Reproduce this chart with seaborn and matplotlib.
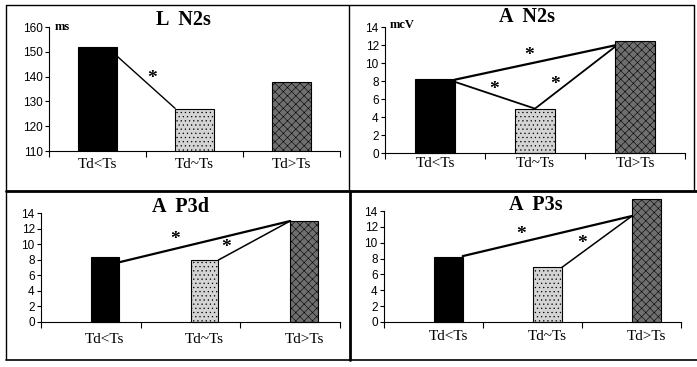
import matplotlib
matplotlib.use("Agg")
import matplotlib.pyplot as plt
from matplotlib.lines import Line2D
import seaborn as sns
import pandas as pd

# ---------------- data ----------------
categories = ["Td<Ts", "Td~Ts", "Td>Ts"]
titles = ["L  N2s", "A  N2s", "A  P3d", "A  P3s"]
units = ["ms", "mcV", "", ""]

l_n2s = [152, 127, 138]
a_n2s = [8.2, 4.9, 12.4]
a_p3d = [8.3, 7.9, 13.0]
a_p3s = [8.2, 6.9, 15.5]

ticks_ms = [110, 120, 130, 140, 150, 160]
ticks_mcv = [0, 2, 4, 6, 8, 10, 12, 14]

# significance connectors: (category index, anchor side, y value)
sig_l_n2s = [[(0, "r", 148.3), (1, "l", 127.2)]]
sig_a_n2s = [[(0, "r", 8.15), (2, "l", 11.96)],
             [(0, "r", 7.9), (1, "c", 4.93), (2, "l", 11.8)]]
sig_a_p3d = [[(0, "r", 7.66), (2, "l", 12.97)],
             [(1, "r", 7.96), (2, "l", 12.97)]]
sig_a_p3s = [[(0, "r", 8.31), (2, "l", 13.37)],
             [(1, "r", 6.87), (2, "l", 13.37)]]

# asterisk annotation positions (x in category units, y in data units)
stars_l_n2s = [(0.56, 139.2)]
stars_a_n2s = [(0.94, 10.8), (0.59, 7.1), (1.20, 7.6)]
stars_a_p3d = [(0.71, 10.6), (1.22, 9.6)]
stars_a_p3s = [(0.73, 11.0), (1.35, 9.9)]

# ---------------- style ----------------
W, H = 697, 367
sns.set_theme(style="white")
plt.rcParams["font.family"] = ["Liberation Serif", "DejaVu Serif"]

fig = plt.figure(figsize=(W / 100, H / 100), dpi=100)
fig.patch.set_facecolor("white")


def px_rect(x0, y0, x1, y1):
    return [x0 / W, 1 - y1 / H, (x1 - x0) / W, (y1 - y0) / H]


panels = [
    dict(vals=l_n2s, rect=px_rect(49, 27, 340, 151), ylim=(110, 160), yt=ticks_ms,
         width=0.40, shift=0.0, sig=sig_l_n2s, stars=stars_l_n2s,
         title_xy=(183, 20), unit_xy=(55, 27), xpad=5.0, lws=[1.0]),
    dict(vals=a_n2s, rect=px_rect(385, 27, 685, 153), ylim=(0, 14), yt=ticks_mcv,
         width=0.40, shift=0.0, sig=sig_a_n2s, stars=stars_a_n2s,
         title_xy=(527, 17), unit_xy=(390, 25), xpad=3.0, lws=[1.6, 1.3]),
    dict(vals=a_p3d, rect=px_rect(41, 213, 340, 322), ylim=(0, 14), yt=ticks_mcv,
         width=0.28, shift=0.14, sig=sig_a_p3d, stars=stars_a_p3d,
         title_xy=(180, 207), unit_xy=None, xpad=8.0, lws=[1.6, 1.1]),
    dict(vals=a_p3s, rect=px_rect(384, 211, 681, 322), ylim=(0, 14), yt=ticks_mcv,
         width=0.29, shift=0.15, sig=sig_a_p3s, stars=stars_a_p3s,
         title_xy=(536, 205), unit_xy=None, xpad=6.0, lws=[1.6, 1.1]),
]

bar_colors = ["#000000", "#d4d4d4", "#6f6f6f"]
bar_hatches = [None, "....", "xxxx"]
plt.rcParams["hatch.linewidth"] = 0.4

for i, p in enumerate(panels):
    ax = fig.add_axes(p["rect"])
    df = pd.DataFrame({"cat": categories, "val": p["vals"]})
    sns.barplot(data=df, x="cat", y="val", hue="cat", order=categories,
                hue_order=categories, palette=bar_colors, width=p["width"],
                edgecolor="black", linewidth=0.8, legend=False, ax=ax,
                saturation=1)
    for patch, h in zip(ax.patches, bar_hatches):
        # let the tallest bar rise above the axis top where the data exceed it
        patch.set_clip_on(p["ylim"][0] != 0)
        if h:
            patch.set_hatch(h)
    ax.set_ylim(*p["ylim"])
    left = -0.5 - p["shift"]
    ax.set_xlim(left, left + 3)
    ax.set_yticks(p["yt"])
    ax.set_yticklabels([str(t) for t in p["yt"]], family="Liberation Sans",
                       fontsize=8.5, color="black")
    ax.set_xticks([0, 1, 2])
    ax.set_xticklabels(categories, fontsize=11, color="black")
    ax.set_xticks([left + k for k in range(4)], minor=True)
    ax.tick_params(axis="x", which="major", length=0, pad=p["xpad"])
    ax.tick_params(axis="x", which="minor", length=4, width=0.8, direction="out",
                   color="black", bottom=True)
    ax.tick_params(axis="y", length=3, width=0.8, direction="out", pad=1.5,
                   color="black", left=True)
    ax.set_xlabel("")
    ax.set_ylabel("")
    for s in ["top", "right"]:
        ax.spines[s].set_visible(False)
    for s in ["left", "bottom"]:
        ax.spines[s].set_color("black")
        ax.spines[s].set_linewidth(0.8)
    ax.set_facecolor("white")

    hw = p["width"] / 2
    for line, lw in zip(p["sig"], p["lws"]):
        xs = [c + (hw if s == "r" else -hw if s == "l" else 0) for c, s, _ in line]
        ys = [y for _, _, y in line]
        ax.plot(xs, ys, color="black", lw=lw, clip_on=False)
    for sx, sy in p["stars"]:
        ax.text(sx, sy, "*", ha="center", va="center", fontsize=14,
                fontweight="bold", color="black")

    tx, ty = p["title_xy"]
    fig.text(tx / W, 1 - ty / H, titles[i], ha="center", va="center",
             fontsize=14.5, fontweight="bold", color="black")
    if p["unit_xy"] is not None:
        ux, uy = p["unit_xy"]
        fig.text(ux / W, 1 - uy / H, units[i], ha="left", va="center",
                 fontsize=9, fontweight="bold", color="black")

# panel frame lines (figure decoration)
def fline(x0, y0, x1, y1, lw):
    fig.add_artist(Line2D([x0 / W, x1 / W], [1 - y0 / H, 1 - y1 / H],
                          transform=fig.transFigure, color="black", lw=lw))

fline(6, 5, 694, 5, 1.0)
fline(6, 5, 6, 359, 1.0)
fline(694, 5, 694, 191, 1.0)
fline(349, 5, 349, 191, 1.0)
fline(6, 191, 697, 191, 2.0)
fline(350, 191, 350, 360, 2.0)
fline(6, 359.5, 697, 359.5, 1.2)

fig.savefig("out.png", dpi=100, facecolor="white")
